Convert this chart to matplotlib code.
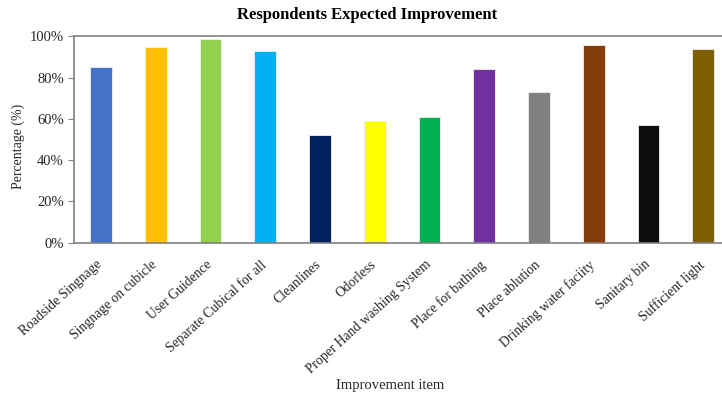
import matplotlib
matplotlib.use("Agg")
import matplotlib.pyplot as plt
from matplotlib.ticker import PercentFormatter
from matplotlib.transforms import ScaledTranslation

plt.rcParams['font.family'] = ['Liberation Serif', 'DejaVu Serif']

items = ["Roadside Singnage", "Singnage on cubicle", "User Guidence",
         "Separate Cubical for all", "Cleanlines", "Odorless",
         "Proper Hand washing System", "Place for bathing", "Place ablution",
         "Drinking water faciity", "Sanitary bin", "Sufficient light"]
percent = [85, 95, 99, 93, 52, 59, 61, 84, 73, 96, 57, 94]
colors = ["#4472C4", "#FFC000", "#92D050", "#00B0F0", "#002060", "#FFFF00",
          "#00B050", "#7030A0", "#808080", "#843C0C", "#0D0D0D", "#7F6000"]
yticks = [0, 20, 40, 60, 80, 100]

fig = plt.figure(figsize=(7.22, 3.95), dpi=100)
ax = fig.add_axes([0.102, 0.3856, 0.910, 0.522])

x = range(len(items))
ax.bar(x, percent, width=0.4, color=colors, edgecolor="#f0f0f0", linewidth=0.6)

ax.set_xlim(-0.5, len(items) - 0.5)
ax.set_ylim(0, 100)
ax.set_yticks(yticks)
ax.yaxis.set_major_formatter(PercentFormatter(decimals=0))
ax.tick_params(axis='y', length=4, width=0.8, color="#808080",
               labelsize=10.5, labelcolor="#262626", pad=3)
ax.tick_params(axis='x', length=0, pad=6)
ax.set_xticks(list(x))
ax.set_xticklabels(items, rotation=42, ha='right', va='top',
                   rotation_mode='anchor', fontsize=9.8, color="#262626")
shift = ScaledTranslation(-5 / 100, -7 / 100, fig.dpi_scale_trans)
for lbl in ax.get_xticklabels():
    lbl.set_transform(lbl.get_transform() + shift)

for side in ("top", "bottom", "left"):
    ax.spines[side].set_color("#808080")
    ax.spines[side].set_linewidth(1.2)
ax.spines["right"].set_visible(False)

fig.text(0.508, 0.962, "Respondents Expected Improvement", ha='center', va='center',
         fontsize=12, fontweight='bold', color="black")
fig.text(0.025, 0.63, "Percentage (%)", rotation=90, ha='center', va='center',
         fontsize=10, color="#262626")
fig.text(0.54, 0.025, "Improvement item", ha='center', va='center',
         fontsize=10.5, color="#262626")

fig.savefig("out.png", dpi=100)
